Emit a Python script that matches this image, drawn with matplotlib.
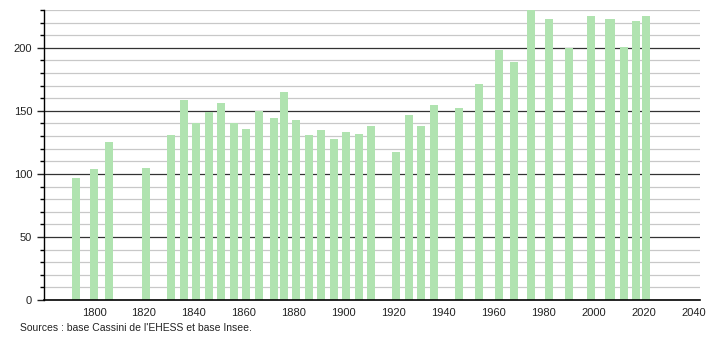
import matplotlib.pyplot as plt
from matplotlib.ticker import MultipleLocator

plt.rcParams['font.family'] = ['Liberation Sans', 'DejaVu Sans']

# census years and population
years = [1793, 1800, 1806, 1821, 1831, 1836, 1841, 1846, 1851, 1856,
         1861, 1866, 1872, 1876, 1881, 1886, 1891, 1896, 1901, 1906,
         1911, 1921, 1926, 1931, 1936, 1946, 1954, 1962, 1968, 1975,
         1982, 1990, 1999, 2006, 2007, 2012, 2017, 2021]
population = [97, 104, 125, 105, 131, 159, 140, 149, 156, 140,
              136, 150, 144, 165, 143, 131, 135, 128, 133, 132,
              138, 117, 147, 138, 155, 152, 171, 198, 189, 230,
              223, 200, 225, 223, 223, 201, 221, 225]
xticks = list(range(1800, 2041, 20))
source = "Sources : base Cassini de l'EHESS et base Insee."

fig = plt.figure(figsize=(7.1, 3.4), dpi=100)
ax = fig.add_axes([44 / 710, 40 / 340, 656 / 710, 290 / 340])

# horizontal grid: grey every 10, dark every 50
for v in range(10, 231, 10):
    if v % 50 == 0:
        ax.axhline(v, color='#333333', lw=0.9, zorder=1)
    else:
        ax.axhline(v, color='#c8c8c8', lw=0.9, zorder=1)

ax.bar(years, population, width=3.2, color='#b0e3b0', zorder=2)

ax.set_xlim(1780, 2042.5)
ax.set_ylim(0, 230)
ax.set_xticks(xticks)
ax.yaxis.set_major_locator(MultipleLocator(50))
ax.yaxis.set_minor_locator(MultipleLocator(10))
ax.tick_params(axis='x', length=0, labelsize=8, pad=6, colors='#222222')
ax.tick_params(axis='y', which='major', length=5, width=1, labelsize=8, colors='#222222')
ax.tick_params(axis='y', which='minor', length=3, width=1)

for s in ['top', 'right']:
    ax.spines[s].set_visible(False)
ax.spines['left'].set_linewidth(1)
ax.spines['bottom'].set_linewidth(1.2)

fig.text(20 / 710, 1 - 328 / 340, source, fontsize=7.5, va='center', ha='left', color='#222222')

fig.savefig('out.png', dpi=100)
